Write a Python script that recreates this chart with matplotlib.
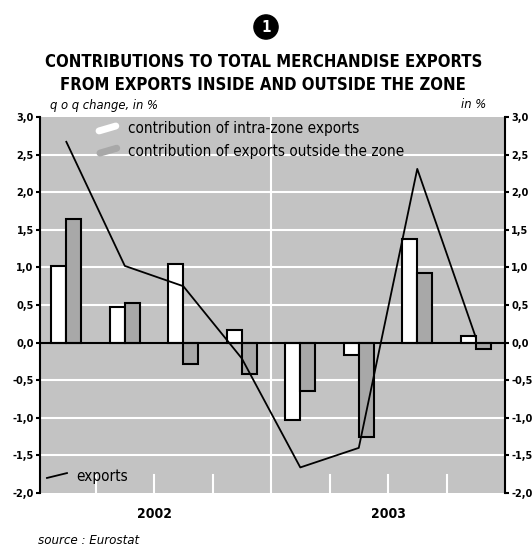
import matplotlib
matplotlib.use('Agg')
import matplotlib.pyplot as plt
import numpy as np

# Data
quarters = ['2002 Q1', '2002 Q2', '2002 Q3', '2002 Q4', '2003 Q1', '2003 Q2', '2003 Q3', '2003 Q4']
intra = [1.02, 0.47, 1.04, 0.17, -1.03, -0.16, 1.38, 0.09]
extra = [1.64, 0.53, -0.29, -0.42, -0.64, -1.25, 0.93, -0.09]
exports = [2.67, 1.02, 0.75, -0.21, -1.66, -1.40, 2.31, 0.07]
years = ['2002', '2003']
yticks = [-2.0, -1.5, -1.0, -0.5, 0.0, 0.5, 1.0, 1.5, 2.0, 2.5, 3.0]

plt.rcParams['font.family'] = ['DejaVu Sans']
plt.rcParams['font.stretch'] = 'condensed'

bg = '#c3c3c3'
bar_gray = '#a8a8a8'

fig = plt.figure(figsize=(5.32, 5.46), dpi=100)
ax = fig.add_axes([40/532, 1-493/546, 465/532, 376/546])
ax.set_facecolor(bg)

x = np.arange(len(quarters))
w = 0.255

# grid
for v in yticks:
    if v in (0.0, 3.0, -2.0):
        continue
    ax.axhline(v, color='white', lw=1.5, zorder=1)
ax.axvline(3.5, color='white', lw=1.5, zorder=1)
for s in [0.5, 1.5, 2.5, 4.5, 5.5, 6.5]:
    ax.plot([s, s], [-2.0, -1.76], color='white', lw=1.5, zorder=1)

ax.bar(x - w/2, intra, width=w, color='white', edgecolor='black', lw=1.5, zorder=2)
ax.bar(x + w/2, extra, width=w, color=bar_gray, edgecolor='black', lw=1.5, zorder=2)
ax.axhline(0, color='black', lw=1.5, zorder=3)
ax.plot(x, exports, color='black', lw=1.3, zorder=4)

ax.set_xlim(-0.45, 7.5)
ax.set_ylim(-2.0, 3.0)
ax.set_yticks(yticks)
ax.set_yticklabels([('%.1f' % v).replace('.', ',') for v in yticks],
                   fontsize=7.8, fontweight='bold')
ax.tick_params(axis='y', which='both', left=True, right=True, labelleft=True,
               labelright=True, length=3, width=1.5, pad=1.5)
ax.set_xticks([1.5, 5.5])
ax.set_xticklabels(years, fontsize=10, fontweight='bold')
ax.tick_params(axis='x', length=0, pad=10)

for sp in ['top', 'bottom']:
    ax.spines[sp].set_visible(False)
for sp in ['left', 'right']:
    ax.spines[sp].set_linewidth(1.5)

# legend
ax.plot([0.127, 0.163], [0.963, 0.976], transform=ax.transAxes, color='white',
        lw=5, solid_capstyle='round', zorder=5)
ax.text(0.189, 0.969, 'contribution of intra-zone exports', transform=ax.transAxes,
        fontsize=11, va='center', ha='left', zorder=5)
ax.plot([0.129, 0.165], [0.904, 0.917], transform=ax.transAxes, color=bar_gray,
        lw=5, solid_capstyle='round', zorder=5)
ax.text(0.189, 0.909, 'contribution of exports outside the zone', transform=ax.transAxes,
        fontsize=11, va='center', ha='left', zorder=5)
ax.plot([0.015, 0.058], [0.04, 0.053], transform=ax.transAxes, color='black',
        lw=1.3, zorder=5)
ax.text(0.077, 0.045, 'exports', transform=ax.transAxes, fontsize=11,
        va='center', ha='left', zorder=5)

# titles
fig.text(0.5, 1-27/546, '1', color='white', fontsize=11, fontweight='bold',
         ha='center', va='center',
         bbox=dict(boxstyle='circle,pad=0.3', fc='black', ec='black'))
fig.text(0.495, 1-62/546, 'CONTRIBUTIONS TO TOTAL MERCHANDISE EXPORTS',
         fontsize=12, fontweight='bold', ha='center', va='center')
fig.text(0.495, 1-85/546, 'FROM EXPORTS INSIDE AND OUTSIDE THE ZONE',
         fontsize=12, fontweight='bold', ha='center', va='center')
fig.text(50/532, 1-105/546, 'q o q change, in %', fontsize=9.3, style='italic',
         ha='left', va='center')
fig.text(486/532, 1-105/546, 'in %', fontsize=9.3, style='italic',
         ha='right', va='center')
fig.text(38/532, 1-540/546, 'source : Eurostat', fontsize=9.5, style='italic',
         ha='left', va='center')

fig.savefig('out.png', dpi=100)
